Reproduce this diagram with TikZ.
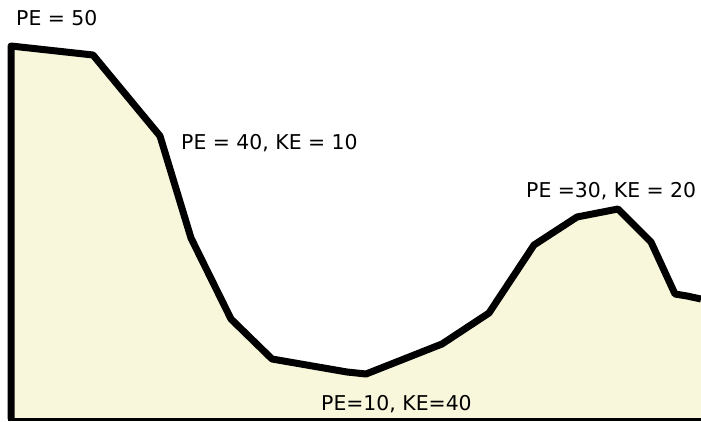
\documentclass[tikz,border=0pt]{standalone}
\usepackage{fontspec}
\setmainfont{DejaVu Sans}
\definecolor{hill}{RGB}{248,247,220}
\begin{document}
\begin{tikzpicture}[x=1pt,y=-1pt,
  lbl/.style={anchor=base west,inner sep=0pt,font=\fontsize{20.4}{24}\selectfont},
  track/.style={line width=7pt,line join=round}]
\useasboundingbox (0,0) rectangle (701,422);
\coordinate (p0) at (11,46);
\coordinate (p1) at (93,55);
\coordinate (p2) at (160,136);
\coordinate (p3) at (191,238);
\coordinate (p4) at (231,319);
\coordinate (p5) at (272,359);
\coordinate (p6) at (347,372);
\coordinate (p7) at (366,374);
\coordinate (p8) at (442,344);
\coordinate (p9) at (489,313);
\coordinate (p10) at (534,245);
\coordinate (p11) at (577,217);
\coordinate (p12) at (618,209);
\coordinate (p13) at (651,242);
\coordinate (p14) at (675,294);
\coordinate (p15) at (687,296);
\coordinate (p16) at (701,299);
\coordinate (b0) at (11,419);
\coordinate (b1) at (701,419);
\fill[hill] (p0) -- (p1) -- (p2) -- (p3) -- (p4) -- (p5) -- (p6) -- (p7) -- (p8) -- (p9) -- (p10) -- (p11) -- (p12) -- (p13) -- (p14) -- (p15) -- (p16) -- (b1) -- (b0) -- cycle;
\draw[line width=3pt] (8,419.5) -- (b1 |- 0,419.5);
\draw[track] (b0) -- (p0) -- (p1) -- (p2) -- (p3) -- (p4) -- (p5) -- (p6) -- (p7) -- (p8) -- (p9) -- (p10) -- (p11) -- (p12) -- (p13) -- (p14) -- (p15) -- (p16);
\node[lbl] (t1) at (16,26) {PE = 50};
\node[lbl] (t2) at (181,150) {PE = 40, KE = 10};
\node[lbl] (t3) at (526,197) {PE =30, KE = 20};
\node[lbl] (t4) at (321,410) {PE=10, KE=40};
\end{tikzpicture}
\end{document}
